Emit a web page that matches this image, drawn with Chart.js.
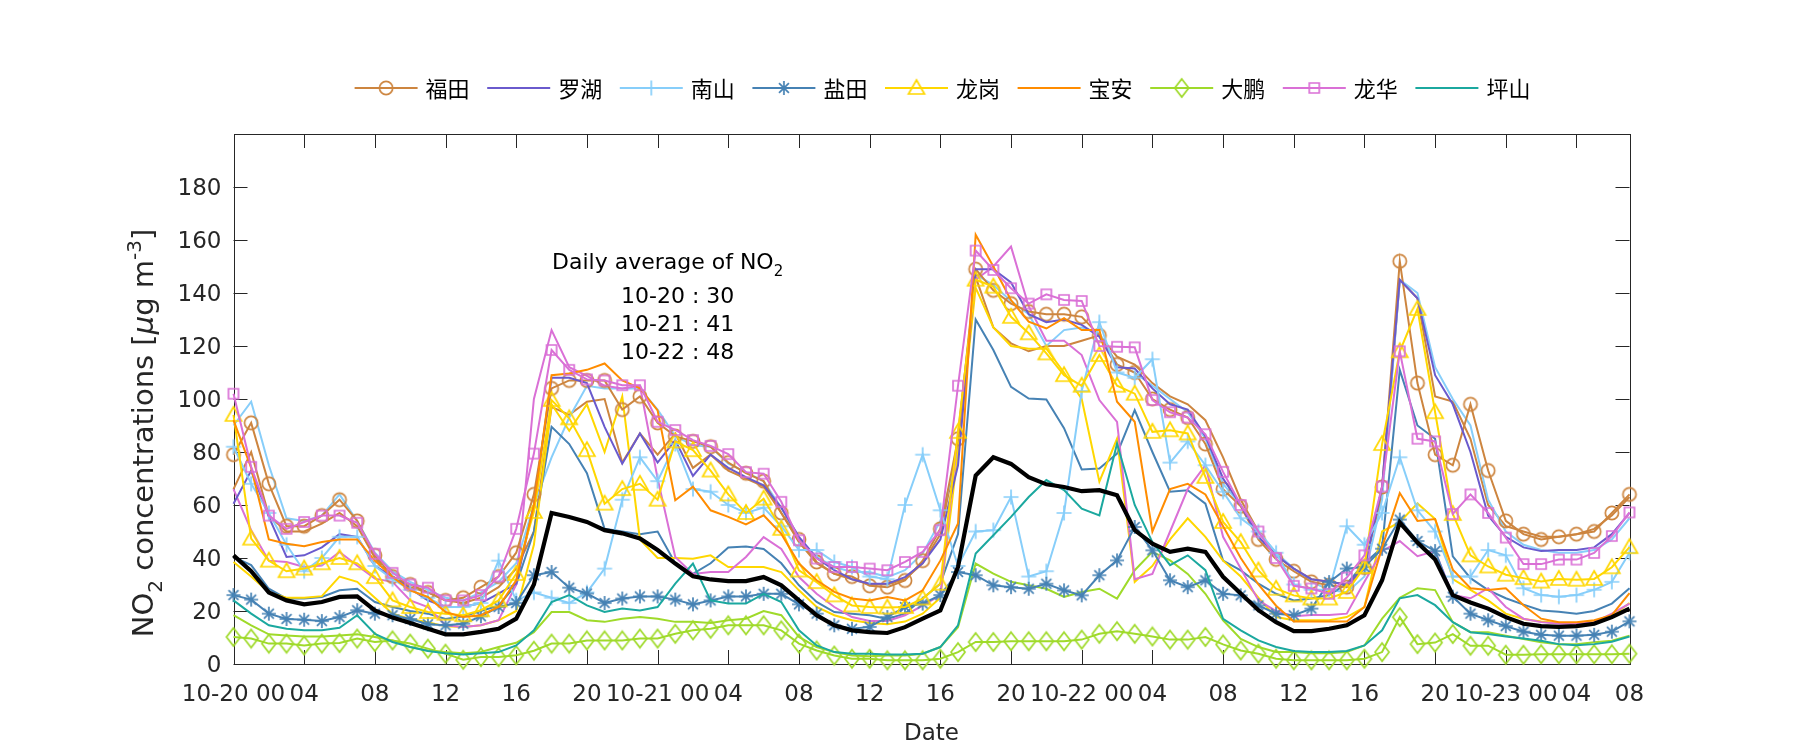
<!DOCTYPE html>
<html><head><meta charset="utf-8">
<script src="https://cdn.jsdelivr.net/npm/chart.js@4.4.1/dist/chart.umd.min.js"></script>
<style>html,body{margin:0;padding:0;background:#fff}#wrap{width:1800px;height:750px;position:relative}</style>
</head><body><div id="wrap"><canvas id="c" width="1800" height="750"></canvas></div>
<script>
// ---------- data ----------
const days = ['10-20','10-21','10-22','10-23'];
const xTickIdx = [0,4,8,12,16,20,24,28,32,36,40,44,48,52,56,60,64,68,72,76,79];
const xTickLabels = ['10-20 00','04','08','12','16','20','10-21 00','04','08','12','16','20','10-22 00','04','08','12','16','20','10-23 00','04','08'];
const yTicks = [0,20,40,60,80,100,120,140,160,180];
const stationNames = ['福田','罗湖','南山','盐田','龙岗','宝安','大鹏','龙华','坪山'];

const futian1 = [79,91,68,52,52,56,62,54, 41,33,30,27,24,25,29,33, 42,64,104,107,107,107,96,101, 91,86,84,82,76,72,69,57, 47,38.5,34,33,29.5,29,31.5,39, 51,85,149,141,136,133,132,132, 131,124,113,110,100,96,93,83, 66,59.5,47,39.5,35,31,29.7,29, 36.4,66.8,152,106,79,75,98,73, 54,49,47,48,49,50,57,64];
const futian2 = [66,80,56,50,50,53,57,52, 40,33,29,27,24,23,25,29, 36,50,97,94,99,100,76,87, 79,87,74,79,73,70,67,57, 46,38,34,32,30,30,32,38, 49,82,146,127,121,118,120,120, 122,124,116,113,106,101,98,92, 78,62,50,41,36,32,31,30, 37,64,145,138,101,99,85,60, 52,50,48,48,49,51,56,63];
const luohu = [60.5,73,55.5,40.4,41,44,49,48, 37,33,28.4,24,21.5,21.5,23,26.6, 30.3,60,108,108,106,89.5,75.6,87, 76,84.5,71,79,74,70.5,67.4,59, 48,40,35.4,32,30.3,30.3,32.8,38, 47,75,149,149,144,132,129,130, 128,123.5,112,111.5,104,98,96,86, 70,60,48,41,36,32,31,30, 36,67,145,138,109,98,80,56, 48,44,42.6,43,43,44,49,57];
const nanshan1 = [82,68,57,45,35,40,48,48, 37,32,28,25,21.5,21.5,23,39, 24,27,25,23,27,36,62,78, 69,83,66,65,60,57,59,52, 43,43,38.5,36.6,33,32,60,79, 58,37,50,50.5,63,33,35,57, 103,129,110,108,115,76,84,75, 65,55,50,42,30,28,28,52, 45,57,78,58,50,33,33,43, 41,28.6,26,25.4,26,28,31,42];
const nanshan2 = [90,99,75,55,54,56,64,54, 42,35,31,28,25,24,27,31, 38,60,78,93,105,104,104,104, 96,86,82.5,82,75.6,72.4,69,59, 47,40.4,36.6,34.7,34.7,32.8,35.4,41.7, 54,80,147,143,137,132,120,126, 127,125,113,110,105,100,95,85, 68,60,50,42,36,31,28,27, 33,62,145,140,112,100,90,62, 50,45,43,42,42,43,47,55];
const yantian1 = [26,24.3,19,17,16.7,16.2,17.7,20.3, 19,18.4,17,15,14.6,15.2,18,21.5, 23,33.5,34.7,28.8,26.6,23,24.7,25.5, 25.5,24.3,22.5,24,25.5,25.5,26.5,26.5, 22.5,19,14.6,13.3,14,17.7,21.5,22.8, 26,34.7,33.5,29.7,29,28.4,30.3,27.8, 25.9,33.5,39.1,51.7,42.9,31.6,29,31.6, 26.5,25.9,22.1,19,18.4,20.9,30.9,36, 36.6,43.5,54.5,46.4,42.6,25.4,19,16.5, 14.3,12.2,11,10.7,10.7,11,12.2,16.1];
const yantian2 = [40.4,37.3,28.4,24.7,24.7,25.3,27.8,28.4, 23.4,21.5,20,19,17,18,20,22, 30,50,89.5,83,72,51,50,49, 50,38,34,38,44,44.3,43.4,38, 29.7,23.4,19.6,19,18.4,17,19,24.7, 30.3,49,130,118.5,104.6,100.2,99.8,89, 73.4,73.8,79.4,95.8,80,65,65.6,60.5, 39,35.3,30.3,26.5,24,24.7,26,30.3, 37.9,44,111,90,85,40.6,32.4,27.9, 24.8,22.4,20.2,19.7,19,20,22.8,28.6];
const longgang1 = [94,47.3,39,35,36,38,40,38, 32.8,24,21.5,19.6,19,18.4,20.3,24, 34,57.4,99.6,92.7,80.7,60.5,66,68, 62,84,80.7,73,64,57,62.4,51, 35.3,30.9,25.9,22.1,21.5,21.3,21.5,24.7, 30.3,87.6,145,142.4,131,124.8,117.2,109, 105,116.6,105,102,87.6,88.2,87,70.6, 53.6,46,35.3,28.4,25.9,24.7,24.7,27.2, 36.6,83,118,134,95,56.6,41,36.8, 33.7,32.4,31.1,32.1,31.8,32.1,36.5,44.1];
const longgang2 = [38.5,33,27,25,25,25.6,33,31, 25,19,17,15.8,14.2,14,14.6,16.5, 20,45,98,88,98,80,101,47, 40,40,39.7,41,36.6,36.6,36.6,34.7, 27.8,21.5,18.4,16.5,15.5,15,16,19, 25,80,142,127,120,119,119,110, 100,68.8,85,31,37,47,55,48, 39,33,25,17.7,16.5,16.5,16.5,17.7, 21.5,50,53.5,60.6,54.7,32,28,24, 19,17,16,15.5,15.5,16,18,23];
const baoan = [92,74,47,45.4,44.4,46,47,47, 39,32.8,27.8,25.3,19.6,17.7,18.4,21.5, 31.6,60,109,109.6,111,113.4,107,104, 95.7,61.8,66.9,58,55.5,52.7,56.1,49.1, 37.9,31.6,27.2,24.7,24,25.3,24,27.8, 39,53,162,150,137.3,129.2,126.6,130.5, 126,126,99,91.4,50,66,68,64, 52,40,30,22,16,16,16,16, 21.5,44,64.5,54,54.7,35.6,28.6,27.9, 28.6,22.2,17.1,15.8,15.8,16.5,18.4,26.7];
const dapeng1 = [10.2,9.6,7.7,7.7,7,7.7,7.9,9.6, 8.3,8.9,7.7,5.8,3.9,1.6,2.6,2.6, 3.3,5,7.7,7.7,8.9,8.9,8.9,9.6, 9.6,11.4,12.7,13.3,14.6,14.6,14.6,12.7, 7.7,5.1,3.2,2,2,1.4,1.4,1.4, 2,4.5,8.3,8.3,8.6,8.6,8.6,8.6, 9.2,11.4,12.4,11.4,10.4,9.2,9.2,10.2, 7.4,5.1,3.9,2,1.4,1.4,1.4,1.4, 2,4.5,17.7,7.5,8.1,11.3,6.9,6.9, 3.5,3.5,3.7,3.7,3.7,3.7,3.7,3.9];
const dapeng2 = [18.4,14.6,11.2,10.8,10.4,10.4,10.8,11.2, 10.2,8.9,6.4,5.1,4.5,4.1,4.5,6.4, 8,12,19.6,19.6,16.5,15.9,17.1,17.7, 17.1,15.9,15.9,15.5,16.5,17.1,20,18.4, 10.2,6.4,4.5,3.2,2.9,3.2,3.2,3.9, 6.4,13.9,37.9,34.1,31,29.7,28.4,25.3, 27.2,28.4,24.7,35.4,42.3,39.1,34,26.5, 16.5,9.5,6.4,4.5,4.5,4.1,4.1,4.5, 7,17.1,25,28.6,27.9,15.8,12,12, 10.7,9.4,8.2,7.5,7.5,8.2,8.8,10.7];
const longhua1 = [102,74.4,56,51,53.6,56,56,53.3, 41.6,34.4,30,28.8,24,24,26,33, 51,79.4,118.5,111,107.4,107,105.2,105.2, 91.4,88.3,84.5,82.3,79.2,72.4,71.8,61.2, 46.7,39.8,36.6,36.6,36,35.4,38.5,42.3, 50.5,105,156,148.7,141.8,136,139.5,137.4, 137,120,119.7,119.5,99.6,95,93,86.7, 72.5,60,50,40,29.5,28.5,26.5,32.6, 41,67,118,85,84,56.6,64,57, 47.7,37.7,37.7,39.4,39.4,41.9,48.3,57.2];
const longhua2 = [66,50.5,39,38.5,36.6,37.2,42.3,37.2, 32.2,31,24,21.5,14.6,14,14.6,16.5, 30,100,126,112,108.7,105,104,105, 70,40.4,34,34.7,34.7,40.4,47.9,43.4, 32.8,26.5,21.5,17.7,16.2,16.2,18.4,22, 26,87,145,150,157.5,135,122,122, 116.6,99.6,91.4,32,34,50,66,75, 48,36,24,20,18,18.5,18.5,19, 31,42.6,46.4,40.7,42.6,26,24.8,28.6, 21.5,17.1,15.8,15.2,15.2,15.8,19,22.8];
const pingshan = [24,19,14.6,13.3,12.7,12.7,13.7,18.4, 11.4,8.3,6.4,4.9,4.1,3.6,4.1,4.5, 7,12.7,23.4,26,22.1,19.6,20.9,20.2, 21.5,30.3,37.9,24,22.8,22.8,26.5,23.4, 12.7,7,4.5,3.9,3.9,3.6,3.6,3.9, 6.4,14.6,41.7,48.6,55.5,63,69.4,65.6, 58.6,56.1,83.2,60,46,37.3,41,35.4, 17,12.7,8.9,6.4,4.9,4.5,4.5,4.9, 7,12.7,24.8,26,22.2,15.8,12,11.3, 10.4,9.6,8.8,7.5,7.1,7.5,8.4,10.4];
const average = [41,35,27,24,22.5,23.4,25.3,25.5, 20.2,17.5,15.5,13.3,11.2,11.2,12.1,13.3, 17.1,30,57,55.5,53.6,50.5,49.3,47.4, 43,37.9,33.1,31.9,31.3,31.3,32.8,29.7, 24,18.4,14.6,12.7,12,11.7,13.9,17.1, 20.2,36.6,71.1,78,75.5,70.5,67.8,66.8, 65.2,65.6,63.7,50.5,45.4,42.3,43.5,42.3, 32.9,26.6,20.3,15.8,12.4,12.4,13.3,14.6, 18.4,31.6,53.4,45.8,39.4,26,23.2,20.9, 17.7,15.2,14.3,14,14.3,15.2,17.7,20.9];
const dailyAvgDays = ['10-20','10-21','10-22'];
const dailyAvgValues = [30,41,48];

// hourly category labels
const hourLabels = [];
for (const d of days) for (let h = 0; h < 24; h++) if (hourLabels.length < futian1.length) hourLabels.push(d + ' ' + String(h).padStart(2,'0'));

// ---------- styles ----------
const C = {ft:'#CD853F', lh:'#6A5ACD', ns:'#87CEFA', yt:'#4682B4', lg:'#FFD700', ba:'#FF8C00', dp:'#9FDA2A', lhua:'#DA70D6', ps:'#1BA89F'};
function mk(shape, color){
  const s = 22, m = s/2, c = document.createElement('canvas');
  c.width = s; c.height = s;
  const g = c.getContext('2d');
  g.strokeStyle = color; g.lineWidth = 1.7; g.beginPath();
  if (shape==='o') g.arc(m,m,6.6,0,2*Math.PI);
  else if (shape==='+') { g.moveTo(m-7.5,m); g.lineTo(m+7.5,m); g.moveTo(m,m-7.5); g.lineTo(m,m+7.5); }
  else if (shape==='*') { for (let k=0;k<4;k++){ const a=k*Math.PI/4; g.moveTo(m-7*Math.cos(a),m-7*Math.sin(a)); g.lineTo(m+7*Math.cos(a),m+7*Math.sin(a)); } }
  else if (shape==='^') { g.moveTo(m,m-8); g.lineTo(m+8,m+6); g.lineTo(m-8,m+6); g.closePath(); }
  else if (shape==='s') { g.rect(m-5,m-5,10,10); }
  else if (shape==='d') { g.moveTo(m,m-9); g.lineTo(m+7,m); g.lineTo(m,m+9); g.lineTo(m-7,m); g.closePath(); }
  g.stroke();
  return c;
}
const M = {o:mk('o',C.ft), p:mk('+',C.ns), a:mk('*',C.yt), t:mk('^',C.lg), d:mk('d',C.dp), s:mk('s',C.lhua)};

function ds(data, color, marker, order, width){
  return {data, borderColor:color, borderWidth:width||2, fill:false, tension:0, order,
    pointStyle: marker || false, pointRadius: marker ? 6 : 0, pointHoverRadius: marker?6:0,
    pointBorderColor: color, pointBackgroundColor:'rgba(0,0,0,0)', clip:false};
}
const datasets = [
  ds(average,'#000000',null,0,4.2),
  ds(pingshan,C.ps,null,2),
  ds(longhua1,C.lhua,M.s,3),
  ds(dapeng1,C.dp,M.d,4),
  ds(baoan,C.ba,null,5),
  ds(longgang1,C.lg,M.t,6),
  ds(yantian1,C.yt,M.a,7),
  ds(nanshan1,C.ns,M.p,8),
  ds(luohu,C.lh,null,9),
  ds(futian1,C.ft,M.o,10),
  ds(longhua2,C.lhua,null,11),
  ds(dapeng2,C.dp,null,12),
  ds(longgang2,C.lg,null,13),
  ds(yantian2,C.yt,null,14),
  ds(nanshan2,C.ns,null,15),
  ds(futian2,C.ft,null,16)
];
const legendItems = [
  {name:stationNames[0], color:C.ft, m:M.o},
  {name:stationNames[1], color:C.lh, m:null},
  {name:stationNames[2], color:C.ns, m:M.p},
  {name:stationNames[3], color:C.yt, m:M.a},
  {name:stationNames[4], color:C.lg, m:M.t},
  {name:stationNames[5], color:C.ba, m:null},
  {name:stationNames[6], color:C.dp, m:M.d},
  {name:stationNames[7], color:C.lhua, m:M.s},
  {name:stationNames[8], color:C.ps, m:null}
];

const AX = '#262626';
const TICKFONT = '23px "DejaVu Sans"';
function drawRich(ctx, parts, size, align){
  const fam = '"DejaVu Sans"';
  const spec = parts.map(([t,k])=>{
    const fs = (k==='sub'||k==='sup') ? Math.round(size*0.7) : size;
    const font = (k==='it'?'italic ':'') + fs + 'px ' + fam;
    ctx.font = font;
    return {t, font, w: ctx.measureText(t).width, dy: k==='sub'? size*0.32 : (k==='sup'? -size*0.42 : 0)};
  });
  const total = spec.reduce((a,s)=>a+s.w,0);
  let x = align==='center' ? -total/2 : 0;
  ctx.textAlign = 'left'; ctx.textBaseline = 'alphabetic';
  for (const s of spec){ ctx.font = s.font; ctx.fillText(s.t, x, s.dy); x += s.w; }
}

const framePlugin = {
  id:'frame',
  beforeDatasetsDraw(chart){
    const {ctx, chartArea:a, scales:{x,y}} = chart;
    ctx.save();
    ctx.strokeStyle = AX; ctx.lineWidth = 1;
    const TL = 14;
    ctx.beginPath();
    for (const i of xTickIdx){
      const px = Math.round(x.getPixelForValue(i))+0.5;
      ctx.moveTo(px, a.bottom); ctx.lineTo(px, a.bottom-TL);
      ctx.moveTo(px, a.top); ctx.lineTo(px, a.top+TL);
    }
    for (const v of yTicks){
      const py = Math.round(y.getPixelForValue(v))+0.5;
      ctx.moveTo(a.left, py); ctx.lineTo(a.left+TL, py);
      ctx.moveTo(a.right, py); ctx.lineTo(a.right-TL, py);
    }
    ctx.stroke();
    ctx.strokeRect(Math.round(a.left)+0.5, Math.round(a.top)+0.5, Math.round(a.right-a.left), Math.round(a.bottom-a.top));
    ctx.restore();
  },
  afterDraw(chart){
    const {ctx, chartArea:a, scales:{x,y}} = chart;
    ctx.save();
    ctx.fillStyle = AX; ctx.font = TICKFONT;
    ctx.textAlign = 'center'; ctx.textBaseline = 'alphabetic';
    xTickIdx.forEach((i,k)=>{ ctx.fillText(xTickLabels[k], x.getPixelForValue(i), a.bottom+37); });
    ctx.textAlign = 'right';
    for (const v of yTicks){ ctx.fillText(String(v), a.left-12, y.getPixelForValue(v)+8.4); }
    // x title
    ctx.textAlign = 'center'; ctx.font = '23px "DejaVu Sans"';
    ctx.fillText('Date', (a.left+a.right)/2, 740);
    // y title
    ctx.save();
    ctx.translate(153, 433);
    ctx.rotate(-Math.PI/2);
    drawRich(ctx, [['NO','n'],['2','sub'],[' concentrations [','n'],['μ','it'],['g m','n'],['-3','sup'],[']','n']], 29, 'center');
    ctx.restore();
    // annotation
    ctx.fillStyle = '#000';
    ctx.save(); ctx.translate(552, 269);
    drawRich(ctx, [['Daily average of NO','n'],['2','sub']], 22, 'left');
    ctx.restore();
    ctx.font = '22px "DejaVu Sans"'; ctx.textAlign = 'left';
    dailyAvgDays.forEach((d,k)=>{ ctx.fillText(d + ' : ' + dailyAvgValues[k], 621, 302.5 + k*28); });
    // legend
    const ly = 88, x0 = 354.6, pitch = 132.6, LL = 63;
    legendItems.forEach((it,k)=>{
      const lx = x0 + k*pitch;
      ctx.strokeStyle = it.color; ctx.lineWidth = 2;
      ctx.beginPath(); ctx.moveTo(lx, ly); ctx.lineTo(lx+LL, ly); ctx.stroke();
      if (it.m) ctx.drawImage(it.m, lx+LL/2-it.m.width/2, ly-it.m.height/2);
      ctx.fillStyle = '#000'; ctx.font = '22px "Noto Sans CJK SC"';
      ctx.textAlign = 'left'; ctx.textBaseline = 'middle';
      ctx.fillText(it.name, lx+LL+8, ly+1);
    });
    ctx.restore();
  }
};

new Chart(document.getElementById('c'), {
  type:'line',
  data:{labels:hourLabels, datasets},
  options:{
    responsive:false, animation:false, events:[],
    layout:{padding:{left:233.5, right:170.5, top:134, bottom:86}},
    plugins:{legend:{display:false}, tooltip:{enabled:false}},
    scales:{
      x:{type:'category', display:false, offset:false},
      y:{type:'linear', display:false, min:0, max:200}
    }
  },
  plugins:[framePlugin]
});
</script>
</body></html>
